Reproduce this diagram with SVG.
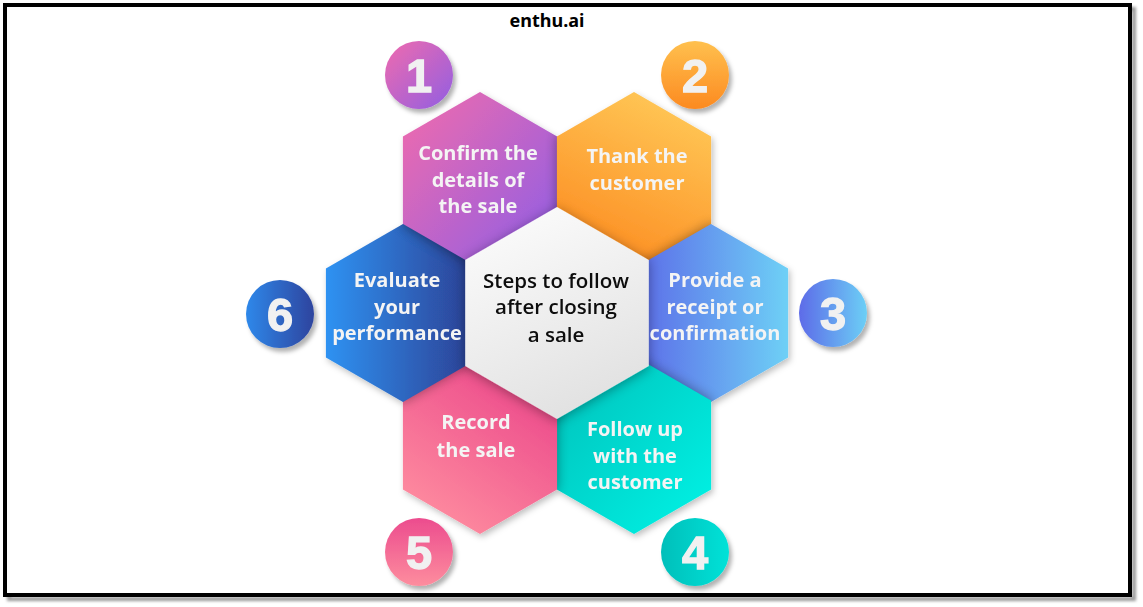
<svg xmlns="http://www.w3.org/2000/svg" xmlns:xlink="http://www.w3.org/1999/xlink" width="1143" height="607" viewBox="0 0 1143 607">
<style>
.ht{font-family:"Open Sans","Liberation Sans",sans-serif;font-weight:700;font-size:20px;fill:#f4f4f4;text-anchor:middle}
.ct{font-family:"Open Sans","Liberation Sans",sans-serif;font-weight:600;font-size:20.5px;fill:#0d0d0d;text-anchor:middle}
.num{font-family:"Liberation Sans","Arial",sans-serif;font-weight:700;font-size:47px;fill:#f1f1f1;stroke:#f1f1f1;stroke-width:1.3;text-anchor:middle}
.ttl{font-family:"Noto Sans","Liberation Sans",sans-serif;font-weight:700;font-size:18px;fill:#000;text-anchor:middle}
.sh{fill:#000;opacity:.38}
</style>
<defs>
<path id="hx" d="M0,-89 L77.1,-44.5 L77.1,44.5 L0,89 L-77.1,44.5 L-77.1,-44.5 Z"/>
<path id="hc" d="M0,-106 L91.8,-53 L91.8,53 L0,106 L-91.8,53 L-91.8,-53 Z"/>
<filter id="blur" x="-30%" y="-30%" width="160%" height="160%"><feGaussianBlur stdDeviation="6"/></filter>
<filter id="ds" x="-30%" y="-30%" width="160%" height="160%"><feDropShadow dx="2" dy="3" stdDeviation="3" flood-color="#000" flood-opacity="0.25"/></filter>
<filter id="dc" x="-30%" y="-30%" width="160%" height="160%"><feDropShadow dx="0" dy="2" stdDeviation="6" flood-color="#000" flood-opacity="0.35"/></filter>
<filter id="cs" x="-30%" y="-30%" width="170%" height="170%"><feDropShadow dx="3" dy="4" stdDeviation="2" flood-color="#000" flood-opacity="0.3"/></filter>
<filter id="bs" x="-5%" y="-5%" width="110%" height="110%"><feGaussianBlur stdDeviation="1.5"/></filter>
<linearGradient id="g1" x1="0" y1="0" x2="1" y2="1"><stop offset="0" stop-color="#f36bab"/><stop offset="1" stop-color="#8a5ee8"/></linearGradient>
<linearGradient id="g2" x1="0.7" y1="0" x2="0.3" y2="1"><stop offset="0" stop-color="#ffc857"/><stop offset="1" stop-color="#fc8a1f"/></linearGradient>
<linearGradient id="g3" x1="0" y1="0.5" x2="1" y2="0.5"><stop offset="0" stop-color="#5c6ae8"/><stop offset="1" stop-color="#6ed0f6"/></linearGradient>
<linearGradient id="g4" x1="0" y1="0" x2="1" y2="1"><stop offset="0" stop-color="#00c0ba"/><stop offset="1" stop-color="#00f4e6"/></linearGradient>
<linearGradient id="g5" x1="0.8" y1="0" x2="0.2" y2="1"><stop offset="0" stop-color="#ea4389"/><stop offset="1" stop-color="#ff8fa0"/></linearGradient>
<linearGradient id="g6" x1="0" y1="0.5" x2="1" y2="0.5"><stop offset="0" stop-color="#2f92f2"/><stop offset="1" stop-color="#2c3d90"/></linearGradient>
<linearGradient id="gc" x1="0.3" y1="0" x2="0.7" y2="1"><stop offset="0" stop-color="#fbfbfb"/><stop offset="1" stop-color="#e0e0e0"/></linearGradient>
<linearGradient id="c1" x1="0" y1="0" x2="1" y2="1"><stop offset="0" stop-color="#f06aae"/><stop offset="1" stop-color="#915fe2"/></linearGradient>
<linearGradient id="c2" x1="0.5" y1="0" x2="0.5" y2="1"><stop offset="0" stop-color="#ffc04e"/><stop offset="1" stop-color="#fc8a20"/></linearGradient>
<linearGradient id="c3" x1="0" y1="0.5" x2="1" y2="0.5"><stop offset="0" stop-color="#5d6be8"/><stop offset="1" stop-color="#6ccff6"/></linearGradient>
<linearGradient id="c4" x1="0" y1="0.5" x2="1" y2="0.5"><stop offset="0" stop-color="#00bfba"/><stop offset="1" stop-color="#00e2d8"/></linearGradient>
<linearGradient id="c5" x1="0.5" y1="0" x2="0.5" y2="1"><stop offset="0" stop-color="#ec4c8e"/><stop offset="1" stop-color="#fd8d9e"/></linearGradient>
<linearGradient id="c6" x1="0" y1="0.5" x2="1" y2="0.5"><stop offset="0" stop-color="#2e88ea"/><stop offset="1" stop-color="#2d449e"/></linearGradient>
<clipPath id="k1"><use href="#hx" transform="translate(480,181)"/></clipPath>
<clipPath id="k2"><use href="#hx" transform="translate(634,181)"/></clipPath>
<clipPath id="k3"><use href="#hx" transform="translate(711,313)"/></clipPath>
<clipPath id="k4"><use href="#hx" transform="translate(634,445)"/></clipPath>
<clipPath id="k5"><use href="#hx" transform="translate(480,445)"/></clipPath>
<clipPath id="k6"><use href="#hx" transform="translate(403,313)"/></clipPath>
</defs>
<rect width="1143" height="607" fill="#fff"/>
<rect x="9" y="9" width="1125" height="590" fill="none" stroke="#9a9a9a" stroke-width="4" filter="url(#bs)"/>
<rect x="5" y="5" width="1125" height="590" fill="#fff" stroke="#000" stroke-width="4"/>
<text class="ttl" x="547" y="27">enthu.ai</text>
<g id="connectors"/>
<g id="hexes" filter="url(#ds)">
<g id="hex1">
<use href="#hx" transform="translate(480,181)" fill="url(#g1)"/>
<g clip-path="url(#k1)"><use href="#hx" transform="translate(634,181)" class="sh" filter="url(#blur)"/></g>
</g>
<g id="hex2">
<use href="#hx" transform="translate(634,181)" fill="url(#g2)"/>
<g clip-path="url(#k2)"><use href="#hx" transform="translate(711,313)" class="sh" filter="url(#blur)"/></g>
</g>
<g id="hex3">
<use href="#hx" transform="translate(711,313)" fill="url(#g3)"/>
<g clip-path="url(#k3)"><use href="#hx" transform="translate(634,445)" class="sh" filter="url(#blur)"/></g>
</g>
<g id="hex4">
<use href="#hx" transform="translate(634,445)" fill="url(#g4)"/>
<g clip-path="url(#k4)"><use href="#hx" transform="translate(480,445)" class="sh" filter="url(#blur)"/></g>
</g>
<g id="hex5">
<use href="#hx" transform="translate(480,445)" fill="url(#g5)"/>
<g clip-path="url(#k5)"><use href="#hx" transform="translate(403,313)" class="sh" filter="url(#blur)"/></g>
</g>
<g id="hex6">
<use href="#hx" transform="translate(403,313)" fill="url(#g6)"/>
<g clip-path="url(#k6)"><use href="#hx" transform="translate(480,181)" class="sh" filter="url(#blur)"/></g>
</g>
</g>
<g id="center">
<use href="#hc" transform="translate(557,313)" fill="url(#gc)" filter="url(#dc)"/>
<text class="ct" x="556" y="288">Steps to follow</text>
<text class="ct" x="556" y="314">after closing</text>
<text class="ct" x="556" y="342">a sale</text>
</g>
<g id="labels">
<g id="t1"><text class="ht" x="478" y="160">Confirm the</text><text class="ht" x="478" y="187">details of</text><text class="ht" x="478" y="213">the sale</text></g>
<g id="t2"><text class="ht" x="637" y="163">Thank the</text><text class="ht" x="637" y="190">customer</text></g>
<g id="t3"><text class="ht" x="715" y="287">Provide a</text><text class="ht" x="715" y="314">receipt or</text><text class="ht" x="715" y="340">confirmation</text></g>
<g id="t4"><text class="ht" x="635" y="436">Follow up</text><text class="ht" x="635" y="463">with the</text><text class="ht" x="635" y="489">customer</text></g>
<g id="t5"><text class="ht" x="476" y="429">Record</text><text class="ht" x="476" y="457">the sale</text></g>
<g id="t6"><text class="ht" x="397" y="287">Evaluate</text><text class="ht" x="397" y="314">your</text><text class="ht" x="397" y="340">performance</text></g>
</g>
<g id="badge1"><circle cx="419" cy="75" r="34" fill="url(#c1)" filter="url(#cs)"/><text class="num" x="419" y="92">1</text></g>
<g id="badge2"><circle cx="695" cy="75" r="34" fill="url(#c2)" filter="url(#cs)"/><text class="num" x="695" y="92">2</text></g>
<g id="badge3"><circle cx="833" cy="313" r="34" fill="url(#c3)" filter="url(#cs)"/><text class="num" x="833" y="330">3</text></g>
<g id="badge4"><circle cx="695" cy="552" r="34" fill="url(#c4)" filter="url(#cs)"/><text class="num" x="695" y="569">4</text></g>
<g id="badge5"><circle cx="419" cy="552" r="34" fill="url(#c5)" filter="url(#cs)"/><text class="num" x="419" y="569">5</text></g>
<g id="badge6"><circle cx="280" cy="314" r="34" fill="url(#c6)" filter="url(#cs)"/><text class="num" x="280" y="331">6</text></g>
</svg>
